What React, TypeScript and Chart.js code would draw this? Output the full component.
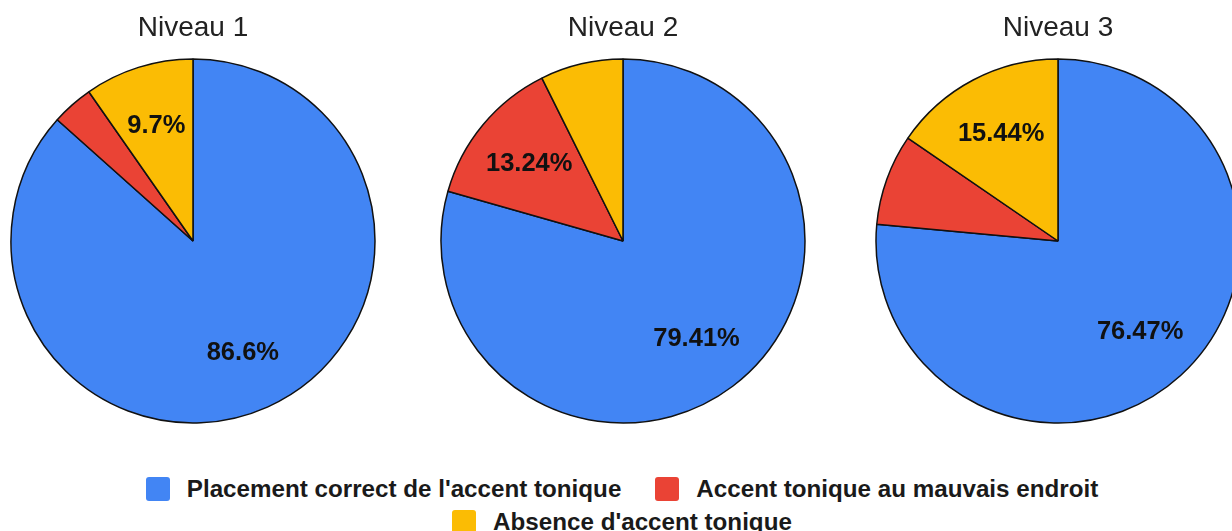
import React, { useEffect, useRef } from "react";
import { Chart, registerables } from "chart.js";

Chart.register(...registerables);

const categories = [
  "Placement correct de l'accent tonique",
  "Accent tonique au mauvais endroit",
  "Absence d'accent tonique",
];
const levelTitles = ["Niveau 1", "Niveau 2", "Niveau 3"];
const niveau1 = [86.6, 3.7, 9.7];
const niveau2 = [79.41, 13.24, 7.35];
const niveau3 = [76.47, 8.09, 15.44];
const seriesByLevel = [niveau1, niveau2, niveau3];
const sliceColors = ["#4285F4", "#EA4335", "#FBBC04"];
const labelThreshold = 9;

const FONT = "'Liberation Sans', Arial, Helvetica, sans-serif";

const sliceLabelPlugin = {
  id: "sliceLabels",
  afterDatasetsDraw(chart: any) {
    const ctx = chart.ctx;
    const meta = chart.getDatasetMeta(0);
    const data = chart.data.datasets[0].data as number[];
    ctx.save();
    ctx.font = `bold 25.5px ${FONT}`;
    ctx.fillStyle = "#111111";
    ctx.textAlign = "center";
    ctx.textBaseline = "middle";
    meta.data.forEach((arc: any, i: number) => {
      const v = data[i];
      if (v < labelThreshold) return;
      const p = arc.getProps(["x", "y", "startAngle", "endAngle", "outerRadius"], true);
      const mid = (p.startAngle + p.endAngle) / 2;
      const r = p.outerRadius * 0.67;
      const x = p.x + Math.cos(mid) * r;
      const y = p.y + Math.sin(mid) * r;
      ctx.fillText(`${v}%`, x, y + 1);
    });
    ctx.restore();
  },
};

function PieChart({ values, title }: { values: number[]; title: string }) {
  const ref = useRef<HTMLCanvasElement | null>(null);
  useEffect(() => {
    if (!ref.current) return;
    const chart = new Chart(ref.current, {
      type: "pie",
      data: {
        labels: categories,
        datasets: [
          {
            data: values,
            backgroundColor: sliceColors,
            borderColor: "#111111",
            borderWidth: 1.5,
          },
        ],
      },
      options: {
        animation: false,
        responsive: false,
        events: [],
        radius: 182,
        layout: { padding: 0 },
        plugins: {
          legend: { display: false },
          tooltip: { enabled: false },
          title: {
            display: true,
            text: title,
            color: "#222222",
            font: { family: FONT, size: 28, weight: "normal" },
            padding: { top: 11, bottom: 12.4 },
          },
        },
      } as any,
      plugins: [sliceLabelPlugin],
    });
    return () => chart.destroy();
  }, [values, title]);
  return <canvas ref={ref} width={386} height={425} />;
}

const pieLefts = [0, 430, 865];

export default function App() {
  return (
    <div
      style={{
        position: "absolute",
        left: 0,
        top: 0,
        width: 1232,
        height: 531,
        overflow: "hidden",
        background: "#ffffff",
      }}
    >
      {seriesByLevel.map((vals, i) => (
        <div
          key={i}
          style={{ position: "absolute", left: pieLefts[i], top: 0, width: 386, height: 425 }}
        >
          <PieChart values={vals} title={levelTitles[i]} />
        </div>
      ))}
      <div
        style={{
          position: "absolute",
          left: 112,
          top: 477,
          width: 1020,
          display: "flex",
          flexWrap: "wrap",
          justifyContent: "center",
          columnGap: 34,
          rowGap: 9,
          fontFamily: FONT,
          fontWeight: "bold",
          fontSize: 24.2,
          color: "#1a1a1a",
          lineHeight: "24px",
        }}
      >
        {categories.map((c, i) => (
          <div key={i} style={{ display: "flex", alignItems: "center", whiteSpace: "nowrap" }}>
            <span
              style={{
                display: "inline-block",
                width: 24,
                height: 24,
                borderRadius: 3,
                background: sliceColors[i],
                marginRight: 17,
              }}
            />
            <span>{c}</span>
          </div>
        ))}
      </div>
    </div>
  );
}
